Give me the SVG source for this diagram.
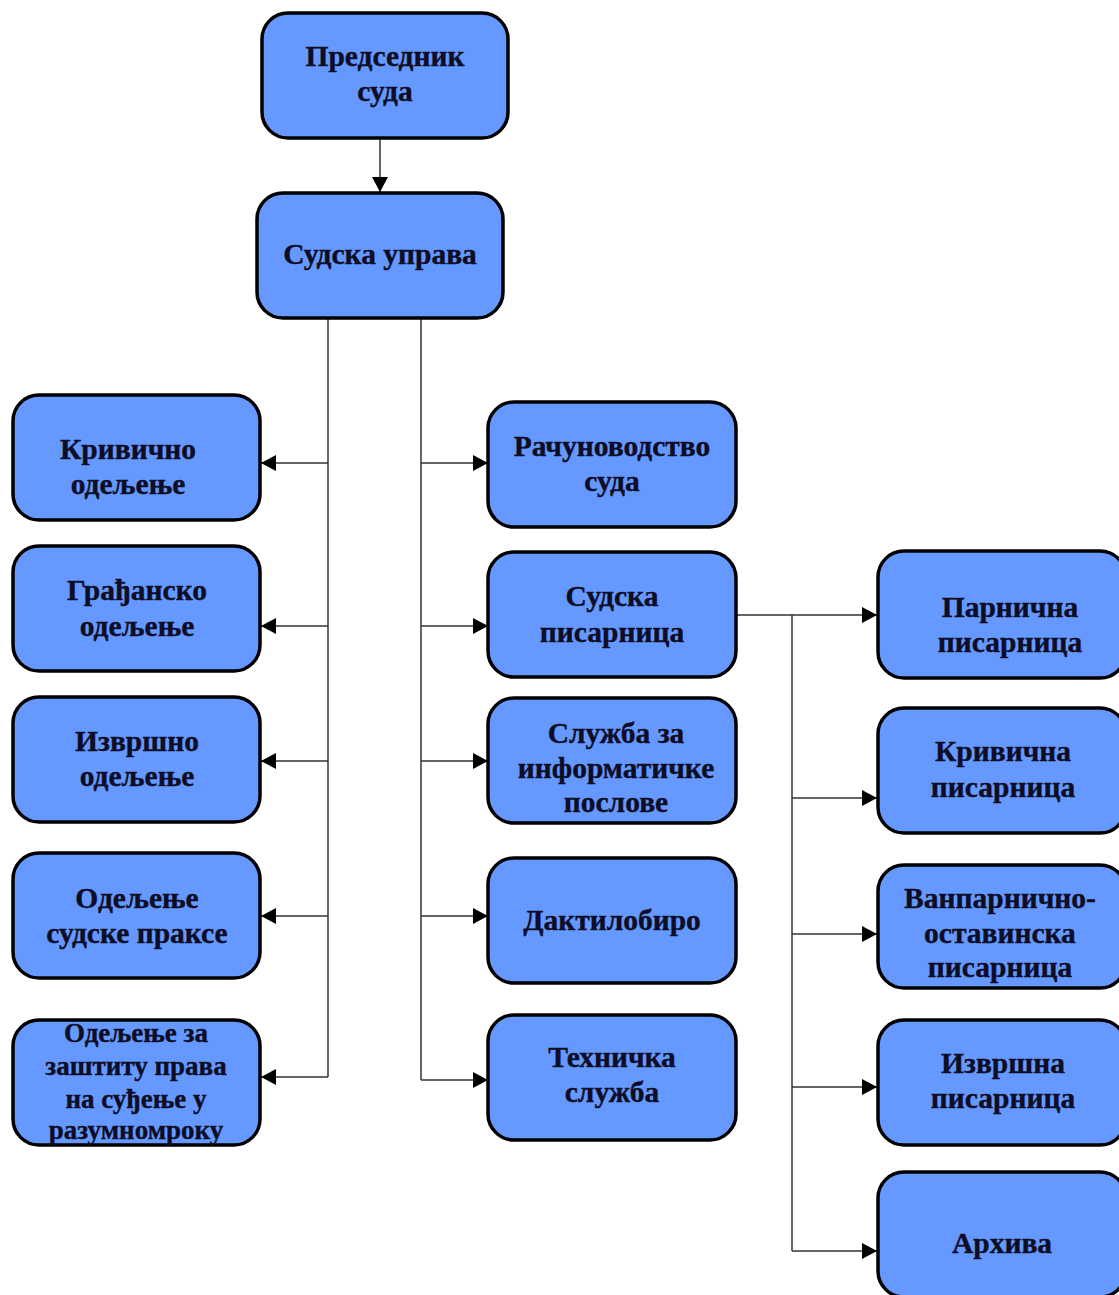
<svg xmlns="http://www.w3.org/2000/svg" width="1119" height="1295" viewBox="0 0 1119 1295">
<style>
.n rect{fill:#6699ff;stroke:#000;stroke-width:3.5}
.n text{font-family:"Liberation Serif",serif;font-weight:bold;font-size:29.5px;fill:#0d0d26;stroke:#0d0d26;stroke-width:0.4;text-anchor:middle;dominant-baseline:central}
#zastita text{font-size:27px}
.c path{fill:none;stroke:#333;stroke-width:1.5}
</style>
<defs>
<marker id="ah" viewBox="0 0 15 16" refX="15" refY="8" markerWidth="15" markerHeight="16" markerUnits="userSpaceOnUse" orient="auto">
<path d="M0,0L15,8L0,16z" fill="#000"/>
</marker>
</defs>
<rect width="1119" height="1295" fill="#fff"/>
<g class="c">
<path d="M380,138V192" marker-end="url(#ah)"/>
<path d="M328,318V1077"/>
<path d="M421,318V1080"/>
<path d="M328,463H261" marker-end="url(#ah)"/>
<path d="M328,626H261" marker-end="url(#ah)"/>
<path d="M328,761H261" marker-end="url(#ah)"/>
<path d="M328,916H261" marker-end="url(#ah)"/>
<path d="M328,1077H261" marker-end="url(#ah)"/>
<path d="M421,463H488" marker-end="url(#ah)"/>
<path d="M421,626H488" marker-end="url(#ah)"/>
<path d="M421,761H488" marker-end="url(#ah)"/>
<path d="M421,916H488" marker-end="url(#ah)"/>
<path d="M421,1080H488" marker-end="url(#ah)"/>
<path d="M736,615H877" marker-end="url(#ah)"/>
<path d="M792,615V1251"/>
<path d="M792,798H877" marker-end="url(#ah)"/>
<path d="M792,934H877" marker-end="url(#ah)"/>
<path d="M792,1087H877" marker-end="url(#ah)"/>
<path d="M792,1251H877" marker-end="url(#ah)"/>
</g>
<g id="predsednik" class="n"><rect x="262" y="13" width="246" height="125" rx="26"/><text x="385" y="56">Председник</text><text x="385" y="91">суда</text></g>
<g id="uprava" class="n"><rect x="257" y="193" width="246" height="125" rx="26"/><text x="380" y="254">Судска управа</text></g>
<g id="krivicno" class="n"><rect x="13" y="395" width="247" height="125" rx="26"/><text x="128" y="449">Кривично</text><text x="128" y="484">одељење</text></g>
<g id="gradjansko" class="n"><rect x="13" y="546" width="247" height="125" rx="26"/><text x="137" y="590">Грађанско</text><text x="137" y="626">одељење</text></g>
<g id="izvrsno" class="n"><rect x="13" y="697" width="247" height="125" rx="26"/><text x="137" y="741">Извршно</text><text x="137" y="776">одељење</text></g>
<g id="praksa" class="n"><rect x="13" y="853" width="247" height="125" rx="26"/><text x="137" y="898">Одељење</text><text x="137" y="933">судске праксе</text></g>
<g id="zastita" class="n"><rect x="13" y="1020" width="247" height="125" rx="26"/><text x="136" y="1033">Одељење за</text><text x="136" y="1066">заштиту права</text><text x="136" y="1099">на суђење у</text><text x="136" y="1130">разумномроку</text></g>
<g id="racunovodstvo" class="n"><rect x="488" y="402" width="248" height="125" rx="26"/><text x="612" y="446">Рачуноводство</text><text x="612" y="481">суда</text></g>
<g id="pisarnica" class="n"><rect x="488" y="552" width="248" height="125" rx="26"/><text x="612" y="596">Судска</text><text x="612" y="632">писарница</text></g>
<g id="informatika" class="n"><rect x="488" y="698" width="248" height="125" rx="26"/><text x="616" y="733">Служба за</text><text x="616" y="768">информатичке</text><text x="616" y="802">послове</text></g>
<g id="daktilobiro" class="n"><rect x="488" y="858" width="248" height="125" rx="26"/><text x="612" y="920">Дактилобиро</text></g>
<g id="tehnicka" class="n"><rect x="488" y="1015" width="248" height="125" rx="26"/><text x="612" y="1057">Техничка</text><text x="612" y="1092">служба</text></g>
<g id="parnicna" class="n"><rect x="878" y="551" width="248" height="127" rx="26"/><text x="1010" y="607">Парнична</text><text x="1010" y="642">писарница</text></g>
<g id="krivicna" class="n"><rect x="878" y="708" width="248" height="125" rx="26"/><text x="1003" y="751">Кривична</text><text x="1003" y="787">писарница</text></g>
<g id="vanparnicno" class="n"><rect x="878" y="865" width="248" height="123" rx="26"/><text x="1000" y="898">Ванпарнично-</text><text x="1000" y="933">оставинска</text><text x="1000" y="967">писарница</text></g>
<g id="izvrsna" class="n"><rect x="878" y="1020" width="248" height="125" rx="26"/><text x="1003" y="1063">Извршна</text><text x="1003" y="1098">писарница</text></g>
<g id="arhiva" class="n"><rect x="878" y="1172" width="248" height="125" rx="26"/><text x="1002" y="1243">Архива</text></g>
</svg>
